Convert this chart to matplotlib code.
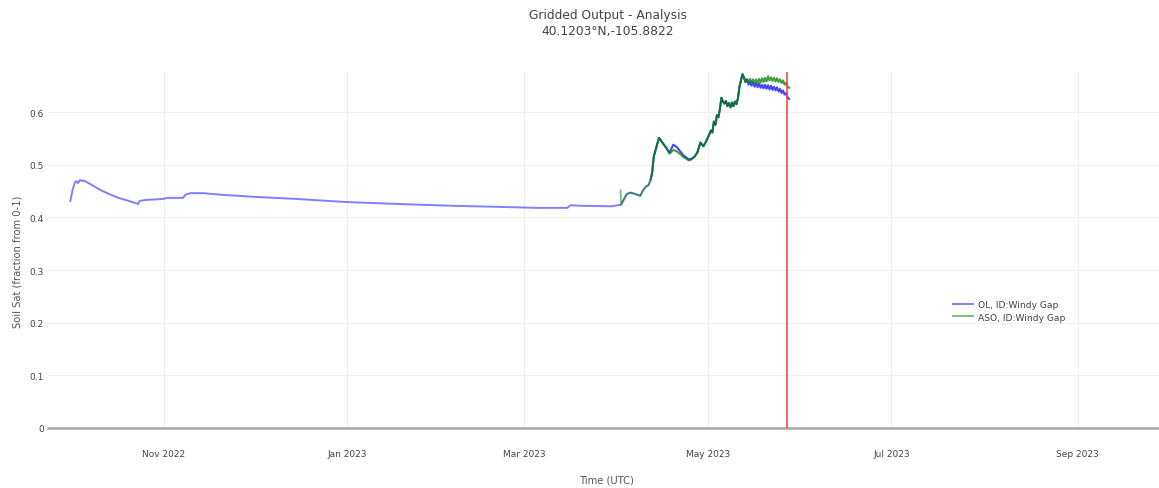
import matplotlib.pyplot as plt
import matplotlib.dates as mdates
import pandas as pd

# OL run, autumn and winter (before the ASO run starts)
winter_time = [
    "2022-10-01 00:00", "2022-10-01 18:00", "2022-10-02 12:00", "2022-10-03 00:00",
    "2022-10-03 12:00", "2022-10-04 06:00", "2022-10-05 00:00", "2022-10-05 12:00",
    "2022-10-08 00:00", "2022-10-11 00:00", "2022-10-14 00:00", "2022-10-17 00:00",
    "2022-10-20 00:00", "2022-10-23 06:00", "2022-10-23 12:00", "2022-10-24 00:00",
    "2022-10-26 00:00", "2022-10-29 00:00", "2022-11-01 00:00", "2022-11-02 00:00",
    "2022-11-07 12:00", "2022-11-08 06:00", "2022-11-10 00:00", "2022-11-14 00:00",
    "2022-11-20 00:00", "2022-12-01 00:00", "2022-12-15 00:00", "2023-01-01 00:00",
    "2023-01-20 00:00", "2023-02-05 00:00", "2023-02-20 00:00", "2023-03-05 00:00",
    "2023-03-15 06:00", "2023-03-16 06:00", "2023-03-20 00:00", "2023-03-30 00:00",
    "2023-04-01 00:00",
]
winter_sat = [
    0.431, 0.452, 0.466, 0.469,
    0.465, 0.471, 0.469, 0.470,
    0.462, 0.452, 0.444, 0.437,
    0.432, 0.426, 0.425, 0.431,
    0.433, 0.434, 0.435, 0.437,
    0.437, 0.443, 0.446, 0.446,
    0.443, 0.439, 0.435, 0.429,
    0.425, 0.422, 0.420, 0.418,
    0.418, 0.423, 0.422, 0.421,
    0.423,
]

# spring melt, both runs
spring_time = [
    "2023-04-02 03:00", "2023-04-02 12:00", "2023-04-04 00:00", "2023-04-05 06:00",
    "2023-04-07 00:00", "2023-04-08 12:00", "2023-04-09 12:00", "2023-04-10 12:00",
    "2023-04-11 06:00", "2023-04-12 00:00", "2023-04-12 12:00", "2023-04-13 00:00",
    "2023-04-14 00:00", "2023-04-14 18:00", "2023-04-15 18:00", "2023-04-17 12:00",
    "2023-04-18 06:00", "2023-04-19 12:00", "2023-04-20 18:00", "2023-04-22 00:00",
    "2023-04-23 00:00", "2023-04-24 18:00", "2023-04-25 12:00", "2023-04-26 12:00",
    "2023-04-27 12:00", "2023-04-28 12:00", "2023-04-29 12:00", "2023-04-30 12:00",
    "2023-05-01 12:00",
]
ol_spring = [
    0.424, 0.428, 0.444, 0.447, 0.444, 0.441, 0.452, 0.459, 0.461, 0.472,
    0.486, 0.515, 0.536, 0.551, 0.543, 0.529, 0.523, 0.538, 0.533, 0.524,
    0.517, 0.510, 0.511, 0.515, 0.523, 0.542, 0.535, 0.545, 0.558,
]
aso_spring = [
    0.424, 0.428, 0.444, 0.447, 0.444, 0.441, 0.452, 0.459, 0.461, 0.472,
    0.486, 0.515, 0.536, 0.551, 0.543, 0.529, 0.521, 0.528, 0.525, 0.519,
    0.514, 0.508, 0.510, 0.515, 0.523, 0.542, 0.535, 0.545, 0.558,
]

# May, twice a day (day/night swing)
may_time = pd.date_range("2023-05-02 00:00", "2023-05-28 00:00", freq="12h")
ol_may = [
    0.565, 0.561, 0.582, 0.576, 0.594, 0.590, 0.606, 0.627, 0.620, 0.616,
    0.621, 0.611, 0.617, 0.609, 0.618, 0.611, 0.620, 0.615, 0.626, 0.648,
    0.660, 0.672, 0.665, 0.657, 0.662, 0.652, 0.658, 0.650, 0.656, 0.648,
    0.655, 0.647, 0.654, 0.646, 0.652, 0.645, 0.652, 0.644, 0.651, 0.643,
    0.650, 0.642, 0.648, 0.641, 0.647, 0.639, 0.644, 0.636, 0.641, 0.633,
    0.636, 0.628, 0.625,
]
aso_may = [
    0.565, 0.561, 0.582, 0.576, 0.594, 0.590, 0.606, 0.627, 0.620, 0.616,
    0.621, 0.611, 0.617, 0.609, 0.618, 0.611, 0.620, 0.615, 0.626, 0.648,
    0.660, 0.672, 0.665, 0.657, 0.662, 0.657, 0.663, 0.656, 0.662, 0.655,
    0.662, 0.655, 0.663, 0.656, 0.664, 0.657, 0.665, 0.658, 0.668, 0.660,
    0.666, 0.659, 0.665, 0.658, 0.664, 0.657, 0.662, 0.655, 0.660, 0.652,
    0.656, 0.648, 0.646,
]

aso_start_time = "2023-04-02 00:00"
aso_start_sat = 0.451
analysis_time = "2023-05-27 06:00"

ol_t = pd.to_datetime(winter_time + spring_time).append(may_time)
ol_v = winter_sat + ol_spring + ol_may
aso_t = pd.to_datetime([aso_start_time] + spring_time).append(may_time)
aso_v = [aso_start_sat] + aso_spring + aso_may

ol = pd.Series(ol_v, index=ol_t)
aso = pd.Series(aso_v, index=aso_t)

W, H = 1159, 489
fig = plt.figure(figsize=(W / 100, H / 100), dpi=100)
ax = fig.add_axes([48 / W, 1 - 429 / H, (W - 48) / W, (429 - 73) / H])

txt = "#444444"
lw = 1.4
ax.plot(ol.index, ol.values, color="blue", alpha=0.5, lw=lw, label="OL, ID:Windy Gap")
melt = ol[ol.index >= "2023-04-12"]
ax.plot(melt.index, melt.values, color="blue", alpha=0.45, lw=lw)
ax.plot(aso.index, aso.values, color="green", alpha=0.5, lw=lw, label="ASO, ID:Windy Gap")
melt = aso[aso.index >= "2023-04-12"]
ax.plot(melt.index, melt.values, color="green", alpha=0.5, lw=lw)

ax.axvline(pd.Timestamp(analysis_time), color="#ff3838", lw=1.1, zorder=5)

ax.set_xlim(pd.Timestamp("2022-09-23 14:00"), pd.Timestamp("2023-09-28 00:00"))
ax.set_ylim(0, 0.676)
ax.xaxis.set_major_locator(mdates.MonthLocator(bymonth=[1, 3, 5, 7, 9, 11]))
ax.xaxis.set_major_formatter(mdates.DateFormatter("%b %Y"))
ax.set_yticks([0, 0.1, 0.2, 0.3, 0.4, 0.5, 0.6])
ax.set_yticklabels(["0", "0.1", "0.2", "0.3", "0.4", "0.5", "0.6"])

for s in ax.spines.values():
    s.set_visible(False)
ax.grid(True, color="#f0f0f0", lw=0.8)
ax.set_axisbelow(True)
ax.axhline(0, color="#a8a8a8", lw=1.8, clip_on=False, zorder=1)
ax.tick_params(axis="both", length=0, labelsize=6.5, labelcolor=txt)
ax.tick_params(axis="x", pad=15)
ax.tick_params(axis="y", pad=3)

fig.text(18 / W, 1 - 262 / H, "Soil Sat (fraction from 0-1)", rotation=90,
         ha="center", va="center", fontsize=7.2, color="#555555")
fig.text(607 / W, 1 - 481 / H, "Time (UTC)", ha="center", va="center",
         fontsize=7.2, color="#555555")
fig.text(608 / W, 1 - 15 / H, "Gridded Output - Analysis", ha="center", va="center",
         fontsize=8.8, color=txt)
fig.text(608 / W, 1 - 31 / H, "40.1203°N,-105.8822", ha="center", va="center",
         fontsize=8.8, color=txt)

leg = ax.legend(loc="upper left", bbox_to_anchor=(953 / W, 1 - 301 / H),
                bbox_transform=fig.transFigure, frameon=False, fontsize=6.6,
                handlelength=2.2, handletextpad=0.5, labelspacing=0.4,
                borderaxespad=0, borderpad=0)
for t in leg.get_texts():
    t.set_color(txt)

fig.savefig("out.png", dpi=100, facecolor="white")
